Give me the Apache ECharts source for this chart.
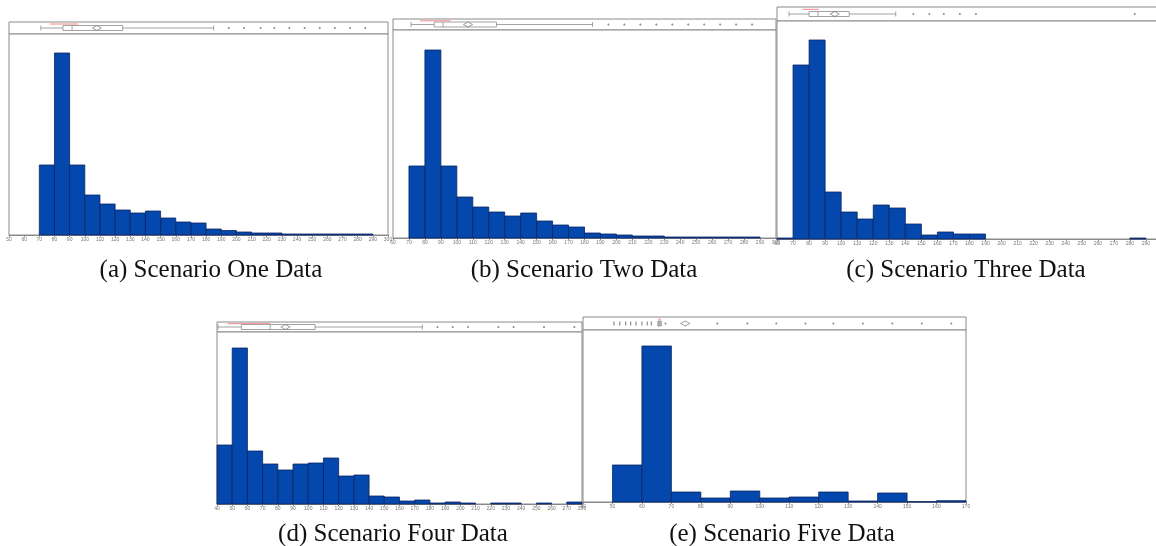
<!DOCTYPE html>
<html>
<head>
<meta charset="utf-8">
<script src="https://cdn.jsdelivr.net/npm/echarts@6/dist/echarts.min.js"></script>
<style>html,body{margin:0;padding:0;background:#fff}#c{width:1156px;height:546px}</style>
</head>
<body>
<div id="c"></div>
<script>
// ---------- DATA ----------
// Panel (a) Scenario One
const binsA   = [50,60,70,80,90,100,110,120,130,140,150,160,170,180,190,200,210,220,230,240,250,260,270,280,290];
const countsA = [0,0,70,182,70,40,31,25,22,24,17,13,12,6,4.5,3,2,2,1,1,1,1,1,1,0];
const boxA = [71, 85.6, 91.6, 125, 185];
const meanA = 108;
const outliersA = [195,205,216,225,235,245,255,265,275,285];
const ciA = [77, 95.5];

// Panel (b) Scenario Two
const binsB   = [60,70,80,90,100,110,120,130,140,150,160,170,180,190,200,210,220,230,240,250,260,270,280,290];
const countsB = [0,72,188,72,41,31,26,22,25,17,13,11,5,4,3,2,2,1,1,1,1,1,1,0];
const boxB = [71.3, 85.8, 91.4, 124.8, 185];
const meanB = 107;
const outliersB = [195,205,215,225,235,245,255,265,275,285];
const ciB = [77, 96];

// Panel (c) Scenario Three
const binsC   = [60,70,80,90,100,110,120,130,140,150,160,170,180,190,200,210,220,230,240,250,260,270,280,290];
const countsC = [1,174,199,47,27,20,34,31,15,4,7,5,5,0,0,0,0,0,0,0,0,0,1,0];
const boxC = [67.5, 80, 85.6, 105, 134];
const meanC = 96;
const outliersC = [145,155,164,174,184,283];
const ciC = [76, 86];

// Panel (d) Scenario Four
const binsD   = [40,50,60,70,80,90,100,110,120,130,140,150,160,170,180,190,200,210,220,230,240,250,260,270];
const countsD = [59,156,53,40,34,40,41,46,28,29,8,7,3,4,1,2,1,0,1,1,0,1,0,2];
const boxD = [40.7, 56, 75, 104.5, 175];
const meanD = 85;
const outliersD = [185,195,205,225,235,255,275];
const ciD = [47, 75];

// Panel (e) Scenario Five
const binsE   = [40,50,60,70,80,90,100,110,120,130,140,150,160];
const countsE = [0,37,156,10,4,11,4,5,10,1,9,0.3,1.3];
const boxE = [65.5, 65.5, 66, 66.5, 66.5];
const meanE = 74.7;
const lowOutliersE = [50.5,52.5,54.5,56.2,58,60,61.8,63.2];
const outliersE = [68,85.6,95.8,105.6,115.5,125,135,145,155,165];
const ciE = [65.5, 66.5];

const binWidth = 10;

const captions = ['(a) Scenario One Data','(b) Scenario Two Data','(c) Scenario Three Data','(d) Scenario Four Data','(e) Scenario Five Data'];

// ---------- LAYOUT ----------
const panels = [
  {bins:binsA, counts:countsA, box:boxA, mean:meanA, out:outliersA, low:[], ci:ciA, min:50, max:300, ymax:201,
   left:9, width:379, stripTop:22, stripH:12, histTop:34, histH:201},
  {bins:binsB, counts:countsB, box:boxB, mean:meanB, out:outliersB, low:[], ci:ciB, min:60, max:300, ymax:208,
   left:393, width:383, stripTop:19, stripH:11, histTop:30, histH:208},
  {bins:binsC, counts:countsC, box:boxC, mean:meanC, out:outliersC, low:[], ci:ciC, min:60, max:300, ymax:218,
   left:777, width:385, stripTop:7, stripH:14, histTop:21, histH:218},
  {bins:binsD, counts:countsD, box:boxD, mean:meanD, out:outliersD, low:[], ci:ciD, min:40, max:280, ymax:172,
   left:217, width:365, stripTop:322, stripH:10, histTop:332, histH:172},
  {bins:binsE, counts:countsE, box:boxE, mean:meanE, out:outliersE, low:lowOutliersE, ci:ciE, min:40, max:170, ymax:172,
   left:583, width:383, stripTop:317, stripH:13, histTop:330, histH:172}
];
const capPos = [[211,258],[584,258],[966,258],[393,522],[782,522]];

const BAR = '#0447ad';
const grid = [], xAxis = [], yAxis = [], series = [], title = [];

panels.forEach((p, i) => {
  const gs = grid.length;
  grid.push({left:p.left, width:p.width, top:p.stripTop, height:p.stripH, show:true, borderColor:'#8a8a8a', borderWidth:1, backgroundColor:'#fff', outerBoundsMode:'none', containLabel:false});
  grid.push({left:p.left, width:p.width, top:p.histTop, height:p.histH, show:true, borderColor:'#8a8a8a', borderWidth:1, backgroundColor:'#fff', outerBoundsMode:'none', containLabel:false});
  // strip axes
  xAxis.push({gridIndex:gs, type:'value', min:p.min, max:p.max, interval:10, show:false});
  yAxis.push({gridIndex:gs, type:'category', data:['lo','box','ci'], show:false});
  // histogram axes
  xAxis.push({gridIndex:gs+1, type:'value', min:p.min, max:p.max, interval:10,
    axisLine:{show:true, lineStyle:{color:'#888', width:1}},
    axisTick:{show:true, length:2, lineStyle:{color:'#888'}},
    splitLine:{show:false},
    axisLabel:{fontSize:5, color:'#777', margin:2, showMinLabel:true, showMaxLabel:true, hideOverlap:false, fontFamily:'Liberation Sans'}});
  yAxis.push({gridIndex:gs+1, type:'value', min:0, max:p.ymax, show:false});

  // histogram bars
  series.push({
    type:'custom', xAxisIndex:gs+1, yAxisIndex:gs+1,
    data: p.bins.map((b, k) => [b, b + binWidth, p.counts[k]]),
    encode:{x:[0,1], y:2},
    renderItem: (params, api) => {
      const v = api.value(2);
      if (!v) return null;
      const tl = api.coord([api.value(0), v]);
      const br = api.coord([api.value(1), 0]);
      return {type:'rect', shape:{x:tl[0], y:tl[1], width:br[0]-tl[0], height:br[1]-tl[1]},
        style:{fill:BAR, stroke:'#0b2560', lineWidth:0.8}};
    }
  });
  // boxplot on the middle category
  series.push({
    type:'boxplot', xAxisIndex:gs, yAxisIndex:gs,
    data:[[1].concat(p.box)],
    encode:{y:0, x:[1,2,3,4,5]},
    boxWidth:[5,5],
    itemStyle:{color:'#fff', borderColor:'#8c8c8c', borderWidth:0.8},
    emphasis:{disabled:true}
  });
  // mean diamond
  series.push({type:'scatter', xAxisIndex:gs, yAxisIndex:gs, symbol:'diamond', symbolSize:[9,5],
    itemStyle:{color:'#fff', borderColor:'#777', borderWidth:0.8}, data:[[p.mean,'box']]});
  // outliers
  series.push({type:'scatter', xAxisIndex:gs, yAxisIndex:gs, symbol:'circle', symbolSize:2,
    itemStyle:{color:'#666'}, data:p.out.map(o => [o,'box'])});
  if (p.low.length) {
    series.push({type:'scatter', xAxisIndex:gs, yAxisIndex:gs, symbol:'rect', symbolSize:[1,4],
      itemStyle:{color:'#555'}, data:p.low.map(o => [o,'box'])});
  }
  // red interval line
  series.push({type:'line', xAxisIndex:gs, yAxisIndex:gs, symbol:'none',
    lineStyle:{color:'#f08a8a', width:1}, data:[[p.ci[0],'ci'],[p.ci[1],'ci']]});

  title.push({text:captions[i], left:capPos[i][0], top:capPos[i][1], textAlign:'center', padding:0,
    textStyle:{fontFamily:'Liberation Serif', fontSize:25, fontWeight:'normal', color:'#111'}});
});

const chart = echarts.init(document.getElementById('c'), null, {renderer:'canvas'});
chart.setOption({animation:false, backgroundColor:'#fff', title, grid, xAxis, yAxis, series});
</script>
</body>
</html>
